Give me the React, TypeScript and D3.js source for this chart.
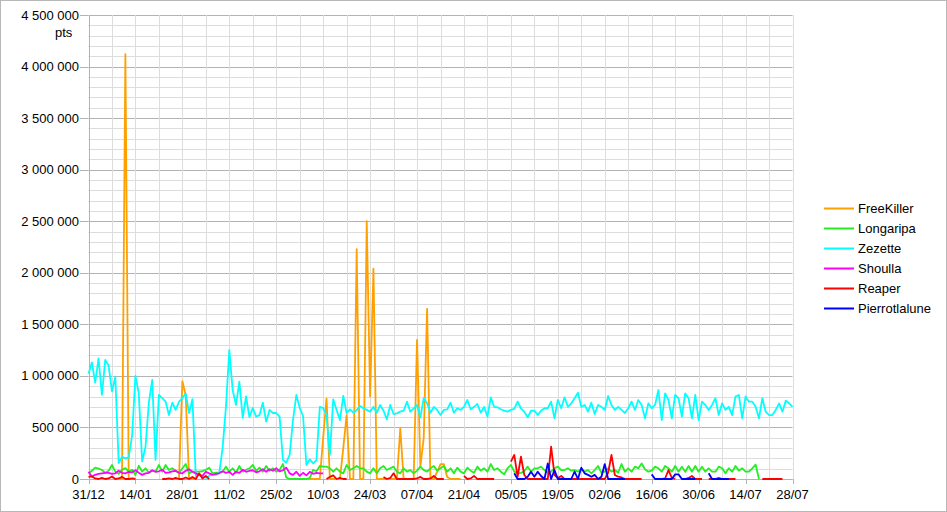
import React from "react";
import * as d3 from "d3";

// ---- data (values in thousands of pts, one per day starting 31/12) ----
const START = new Date(2019, 11, 31);
const END = new Date(2020, 6, 28);
const UNIT = 1000;
const _ = null;

const seriesNames = ["FreeKiller", "Longaripa", "Zezette", "Shoulla", "Reaper", "Pierrotlalune"];
const seriesColors = ["#ffa000", "#22ee22", "#00ffff", "#ff00ff", "#ff0000", "#0000ff"];

const freeKiller = [
  _, _, _, _, _, _, _, _, _, 0,
  0, 4120, 0, 0, _, _, _, _, _, _,
  _, _, _, _, _, 0, 0, 0, 950, 810,
  0, 0, 0, _, _, _, _, _, _, _,
  _, _, _, _, _, _, _, _, _, _,
  _, _, _, _, _, _, _, _, _, _,
  _, _, _, _, _, 0, 0, 0, 0, 0,
  400, 780, 0, 0, 0, 0, 300, 620, 0, 0,
  2230, 0, 0, 2500, 800, 2040, 0, 0, 0, 0,
  0, 0, 0, 490, 0, 0, 0, 0, 1350, 120,
  400, 1650, 0, 0, 70, 145, 145, 20, 0, 0,
  0, 0, _, _, _, _, _, _, _, _,
];

const longaripa = [
  55, 80, 110, 100, 87, 60, 80, 136, 71, 50,
  90, 105, 71, 90, 39, 129, 71, 104, 60, 80,
  71, 136, 71, 136, 87, 104, 80, 55, 104, 145,
  55, 71, 71, 71, 75, 90, 110, 55, 61, 65,
  71, 120, 71, 104, 60, 126, 71, 90, 104, 136,
  80, 110, 71, 126, 80, 104, 71, 87, 145, 15,
  0, 0, 0, 0, 0, 0, 10, 87, 75, 126,
  120, 120, 104, 71, 104, 71, 55, 136, 87, 104,
  126, 104, 104, 71, 55, 104, 55, 104, 126, 87,
  104, 120, 71, 55, 104, 71, 87, 55, 81, 120,
  87, 71, 104, 126, 81, 104, 126, 71, 104, 55,
  110, 71, 55, 110, 81, 61, 120, 81, 104, 71,
  145, 87, 104, 71, 45, 104, 136, 71, 55, 60,
  75, 120, 71, 104, 104, 120, 87, 61, 71, 104,
  120, 87, 87, 104, 81, 87, 71, 94, 71, 87,
  55, 87, 126, 61, 71, 104, 71, 87, 61, 145,
  71, 104, 71, 120, 104, 150, 94, 71, 81, 120,
  104, 71, 126, 104, 71, 126, 71, 120, 71, 126,
  71, 126, 71, 120, 71, 104, 71, 71, 120, 104,
  55, 104, 71, 126, 81, 104, 71, 71, 104, 140,
  0, _, _, _, _, _, _, _, _, _, _,
];

const zezette = [
  1020, 1130, 935, 1170, 815, 1155, 1100, 850, 990, 155,
  215, 200, 210, 420, 1000, 830, 170, 310, 740, 960,
  185, 815, 785, 750, 620, 740, 670, 750, 785, 830,
  640, 775, 30, 40, 20, 10, 30, 50, 40, 60,
  300, 700, 1250, 863, 718, 944, 592, 800, 600, 690,
  605, 620, 740, 556, 670, 640, 640, 605, 185, 158,
  233, 572, 815, 690, 611, 136, 191, 152, 184, 700,
  690, 620, 233, 773, 670, 572, 805, 640, 676, 643,
  670, 708, 686, 670, 653, 700, 643, 718, 662, 579,
  718, 630, 637, 653, 662, 750, 653, 686, 718, 598,
  783, 734, 643, 700, 670, 620, 670, 676, 740, 643,
  686, 670, 700, 766, 676, 700, 727, 643, 700, 605,
  792, 700, 695, 676, 662, 653, 670, 680, 750, 686,
  653, 598, 662, 662, 620, 662, 686, 686, 750, 588,
  766, 686, 792, 700, 734, 783, 837, 700, 718, 653,
  740, 630, 718, 700, 670, 805, 718, 670, 700, 670,
  640, 686, 750, 670, 766, 718, 588, 734, 686, 718,
  863, 572, 830, 766, 588, 815, 783, 605, 830, 783,
  588, 815, 572, 750, 718, 670, 718, 783, 620, 734,
  670, 700, 620, 800, 815, 588, 800, 750, 750, 700,
  588, 783, 653, 620, 620, 670, 734, 653, 760, 734, 700,
];

const shoulla = [
  70, 25, 40, 50, 55, 60, 60, 50, 55, 80,
  60, 55, 70, 65, 85, 60, 40, 55, 60, 85,
  70, 75, 90, 60, 65, 75, 80, 60, 55, 80,
  95, 70, 55, 40, 30, 70, 55, 40, 50, 55,
  75, 60, 70, 40, 70, 60, 90, 70, 80, 85,
  65, 75, 95, 70, 95, 80, 105, 75, 85, 110,
  55, 40, 70, 30, 60, 35, 70, 50, 60, 55,
  55,
];

const reaper = [
  20, 25, 5, 0, 10, 0, 5, 25, 0, 5,
  20, 0, 0, 5, 0, _, _, _, _, _,
  _, _, 0, 0, 5, 0, 10, 0, 0, 15,
  0, 20, 0, 55, 5, 30, 0, _, _, _,
  _, _, _, _, _, _, _, _, _, _,
  _, _, _, _, _, _, _, _, _, _,
  _, _, _, _, _, _, _, _, _, _,
  _, 0, 20, 35, 0, 10, 0, 0, _, _,
  _, _, _, _, _, _, _, _, 20, 0,
  10, 55, 0, 0, 0, 0, 0, 0, 5, 20,
  0, 0, 5, 30, 0, 0, 0, _, _, _,
  _, _, 30, 0, 5, 30, 0, 0, 0, 0,
  0, 0, _, _, _, _, 168, 233, 22, 216,
  39, 0, 0, 0, 0, 0, 0, 0, 313, 39,
  10, 29, 0, 0, 0, 0, 0, 0, 0, 0,
  0, 0, 0, 0, 0, 60, 233, 39, 22, 15,
  0, 0, 0, 0, 0, 0, _, _, _, _,
  _, 0, 5, 87, 10, 0, _, _, 0, 10,
  29, 0, 0, 0, _, 0, 0, 0, 10, 0,
  0, 0, 0, 0, _, _, _, _, _, _,
  _, 0, 0, 0, 0, 0, 0, 0, _, _, _,
];

const pierrotlalune = [
  _, _, _, _, _, _, _, _, _, _,
  _, _, _, _, _, _, _, _, _, _,
  _, _, _, _, _, _, _, _, _, _,
  _, _, _, _, _, _, _, _, _, _,
  _, _, _, _, _, _, _, _, _, _,
  _, _, _, _, _, _, _, _, _, _,
  _, _, _, _, _, _, _, _, _, _,
  _, _, _, _, _, _, _, _, _, _,
  _, _, _, _, _, _, _, _, _, _,
  _, _, _, _, _, _, _, _, _, _,
  _, _, _, _, _, _, _, _, _, _,
  _, _, _, _, _, _, _, _, _, _,
  _, _, _, _, _, _, _, 55, 0, 0,
  0, 22, 71, 22, 71, 29, 0, 150, 0, 87,
  0, 0, 0, 0, 0, 71, 0, 110, 55, 40,
  22, 40, 0, 22, 145, 0, 0, 0, 0, 0,
  0, _, _, _, _, _, _, _, 45, 0,
  0, 0, 0, 0, 0, 45, 45, 0, 0, 0,
  0, 0, _, _, _, 55, 0, 0, 0, 0,
  0, 0, _, _, _, _, _, _, _, _,
  _, _, _, _, _, _, _, _, _, _, _,
];

const seriesValues = [freeKiller, longaripa, zezette, shoulla, reaper, pierrotlalune];

const yTickValues = [0, 500000, 1000000, 1500000, 2000000, 2500000, 3000000, 3500000, 4000000, 4500000];
const yTickLabels = ["0", "500 000", "1 000 000", "1 500 000", "2 000 000", "2 500 000", "3 000 000", "3 500 000", "4 000 000", "4 500 000"];
const xTickLabels = ["31/12", "14/01", "28/01", "11/02", "25/02", "10/03", "24/03", "07/04", "21/04", "05/05", "19/05", "02/06", "16/06", "30/06", "14/07", "28/07"];
const yUnitLabel = "pts";

const W = 947;
const H = 512;
const FONT = "'Liberation Sans', Arial, sans-serif";

export default function App() {
  const left = 88.5, right = 792.5, top = 15, bottom = 479;
  const x = d3.scaleTime().domain([START, END]).range([left, right]);
  const y = d3.scaleLinear().domain([0, 4500000]).range([bottom, top]);

  const dates = d3.timeDay.range(START, d3.timeDay.offset(END, 1));
  const weekLines = d3.timeDay.every(7)!.range ? d3.range(0, 211, 7).map((d) => d3.timeDay.offset(START, d)) : [];
  const minorY = d3.range(0, 4500001, 100000);
  const majorTickDates = xTickLabels.map((_l, i) => d3.timeDay.offset(START, i * 14));

  const line = d3
    .line<number | null>()
    .defined((d) => d != null)
    .x((_d, i) => x(dates[i]))
    .y((d) => y((d as number) * UNIT));

  return (
    <div style={{ position: "absolute", left: 0, top: 0 }}>
      <svg width={W} height={H} style={{ display: "block" }} fontFamily={FONT}>
        <rect x={0} y={0} width={W} height={H} fill="#ffffff" />
        <rect x={0.5} y={0.5} width={W - 1} height={H - 1} fill="none" stroke="#b8b8b8" />
        {/* minor horizontal grid */}
        {minorY.map((v) => (
          <line key={"h" + v} x1={left} x2={right} y1={Math.round(y(v)) + 0.5} y2={Math.round(y(v)) + 0.5}
            stroke={v % 500000 === 0 ? "#b3b3b3" : "#dddddd"} strokeWidth={1} />
        ))}
        {/* vertical grid */}
        {weekLines.map((d, i) => (
          <line key={"v" + i} x1={Math.round(x(d)) + 0.5} x2={Math.round(x(d)) + 0.5} y1={top} y2={bottom}
            stroke={i === 0 ? "#b3b3b3" : "#dddddd"} strokeWidth={1} />
        ))}
        {/* y major ticks and labels */}
        {yTickValues.map((v, i) => (
          <g key={"yt" + v}>
            <line x1={80} x2={left} y1={Math.round(y(v)) + 0.5} y2={Math.round(y(v)) + 0.5} stroke="#b3b3b3" />
            <text x={79} y={y(v) + 4.5} textAnchor="end" fontSize={13} fill="#000">{yTickLabels[i]}</text>
          </g>
        ))}
        <text x={55} y={36.5} fontSize={13} fill="#000">{yUnitLabel}</text>
        {/* bottom axis */}
        <line x1={left} x2={right} y1={bottom + 0.5} y2={bottom + 0.5} stroke="#b3b3b3" />
        {majorTickDates.map((d, i) => (
          <g key={"xt" + i}>
            <line x1={Math.round(x(d)) + 0.5} x2={Math.round(x(d)) + 0.5} y1={bottom} y2={bottom + 5} stroke="#b3b3b3" />
            <text x={x(d)} y={499} textAnchor="middle" fontSize={13} fill="#000">{xTickLabels[i]}</text>
          </g>
        ))}
        {/* series */}
        {seriesValues.map((vals, si) => (
          <path key={"s" + si} d={line(vals) || ""} fill="none" stroke={seriesColors[si]} strokeWidth={1.8}
            strokeLinejoin="round" />
        ))}
        {/* legend */}
        {seriesNames.map((name, i) => (
          <g key={"lg" + i}>
            <line x1={824} x2={854} y1={208.5 + i * 20} y2={208.5 + i * 20} stroke={seriesColors[i]} strokeWidth={2} />
            <text x={858} y={212.5 + i * 20} fontSize={13} fill="#000">{name}</text>
          </g>
        ))}
      </svg>
    </div>
  );
}
